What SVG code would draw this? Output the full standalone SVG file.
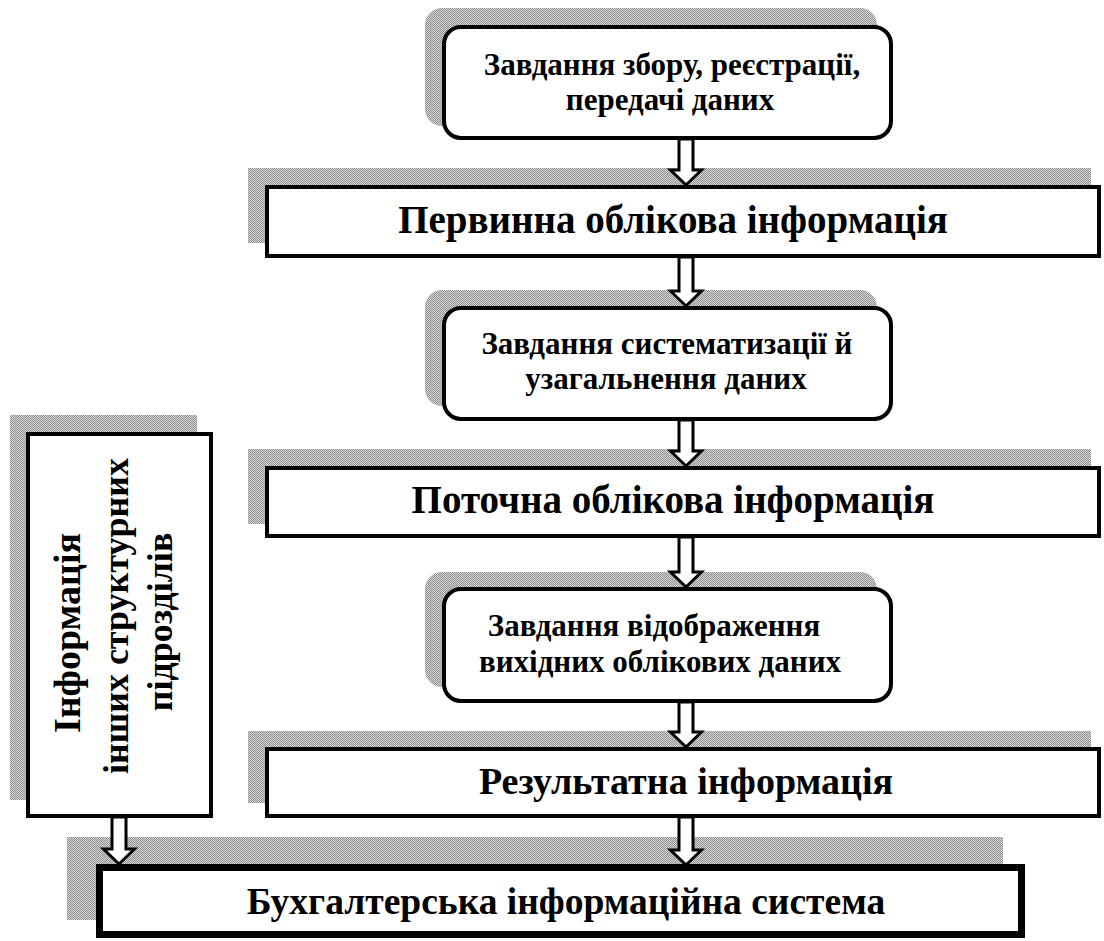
<svg xmlns="http://www.w3.org/2000/svg" width="1104" height="941" viewBox="0 0 1104 941">
  <defs>
    <!-- fine dithered grey used for the offset shadows -->
    <pattern id="dots" width="2" height="2" patternUnits="userSpaceOnUse">
      <rect width="2" height="2" fill="#d6d6d6"/>
      <rect width="1" height="1" fill="#8f8f8f"/>
      <rect x="1" y="1" width="1" height="1" fill="#8f8f8f"/>
    </pattern>
    <style>
      .shadow { fill: url(#dots); stroke: none; }
      .box { fill: #fff; stroke: #000; stroke-width: 4; }
      .box-heavy { fill: #fff; stroke: #000; stroke-width: 7; }
      .arrow { fill: #fff; stroke: #000; stroke-width: 3; stroke-linejoin: miter; }
      text { font-family: 'Liberation Serif', serif; font-weight: 700; text-anchor: middle; fill: #000; }
    </style>
  </defs>

  <rect width="1104" height="941" fill="#fff"/>

  <!-- left side box: information from other units -->
  <g id="node-other-units">
    <rect class="shadow" x="10" y="415" width="187" height="385"/>
    <rect class="box" x="28" y="434" width="183" height="382"/>
    <text font-family="Liberation Serif" font-weight="bold" text-anchor="middle" font-size="38" transform="translate(80,633) rotate(-90)">Інформація</text>
    <text font-family="Liberation Serif" font-weight="bold" text-anchor="middle" font-size="36" transform="translate(128,616) rotate(-90)">інших структурних</text>
    <text font-family="Liberation Serif" font-weight="bold" text-anchor="middle" font-size="36" transform="translate(172,622) rotate(-90)">підрозділів</text>
  </g>

  <!-- task 1: collection, registration, transfer -->
  <g id="node-task-collect">
    <rect class="shadow" x="425" y="8" width="452" height="118" rx="17"/>
    <rect class="box" x="444" y="27" width="447" height="111" rx="17"/>
    <text font-family="Liberation Serif" font-weight="bold" text-anchor="middle" font-size="31" x="672" y="75">Завдання збору, реєстрації,</text>
    <text font-family="Liberation Serif" font-weight="bold" text-anchor="middle" font-size="31" x="670" y="110">передачі даних</text>
  </g>

  <!-- primary accounting information -->
  <g id="node-primary">
    <rect class="shadow" x="248" y="168" width="843" height="75"/>
    <rect class="box" x="267" y="187" width="832" height="69"/>
    <text font-family="Liberation Serif" font-weight="bold" text-anchor="middle" font-size="39" x="673" y="233">Первинна облікова інформація</text>
  </g>

  <!-- task 2: systematisation and generalisation -->
  <g id="node-task-system">
    <rect class="shadow" x="425" y="290" width="452" height="116" rx="17"/>
    <rect class="box" x="444" y="308" width="447" height="111" rx="17"/>
    <text font-family="Liberation Serif" font-weight="bold" text-anchor="middle" font-size="31" x="667" y="354">Завдання систематизації й</text>
    <text font-family="Liberation Serif" font-weight="bold" text-anchor="middle" font-size="31" x="666" y="389">узагальнення даних</text>
  </g>

  <!-- current accounting information -->
  <g id="node-current">
    <rect class="shadow" x="248" y="449" width="843" height="75"/>
    <rect class="box" x="267" y="468" width="832" height="68"/>
    <text font-family="Liberation Serif" font-weight="bold" text-anchor="middle" font-size="39" x="673" y="513">Поточна облікова інформація</text>
  </g>

  <!-- task 3: presenting output data -->
  <g id="node-task-output">
    <rect class="shadow" x="425" y="572" width="452" height="115" rx="17"/>
    <rect class="box" x="444" y="589" width="447" height="112" rx="17"/>
    <text font-family="Liberation Serif" font-weight="bold" text-anchor="middle" font-size="31" x="654" y="636">Завдання відображення</text>
    <text font-family="Liberation Serif" font-weight="bold" text-anchor="middle" font-size="31" x="660" y="672">вихідних облікових даних</text>
  </g>

  <!-- resulting information -->
  <g id="node-result">
    <rect class="shadow" x="248" y="731" width="843" height="72"/>
    <rect class="box" x="267" y="749" width="832" height="67"/>
    <text font-family="Liberation Serif" font-weight="bold" text-anchor="middle" font-size="38" x="686" y="794">Результатна інформація</text>
  </g>

  <!-- accounting information system -->
  <g id="node-ais">
    <rect class="shadow" x="67" y="837" width="936" height="83"/>
    <rect class="box-heavy" x="99.5" y="867.5" width="922" height="67"/>
    <text font-family="Liberation Serif" font-weight="bold" text-anchor="middle" font-size="37.5" x="566" y="914">Бухгалтерська інформаційна система</text>
  </g>

  <!-- block arrows -->
  <g id="connectors">
    <path class="arrow" d="M679,139 V170 H670.5 L686,185 L701.5,170 H693 V139 Z"/>
    <path class="arrow" d="M679,257 V291 H670.5 L686,306 L701.5,291 H693 V257 Z"/>
    <path class="arrow" d="M679,420 V451 H670.5 L686,466 L701.5,451 H693 V420 Z"/>
    <path class="arrow" d="M679,537 V572 H670.5 L686,587 L701.5,572 H693 V537 Z"/>
    <path class="arrow" d="M679,702 V732 H670.5 L686,747 L701.5,732 H693 V702 Z"/>
    <path class="arrow" d="M679,817 V850 H670.5 L686,865 L701.5,850 H693 V817 Z"/>
    <path class="arrow" d="M112,817 V849 H103.5 L119,864 L134.5,849 H126 V817 Z"/>
  </g>
</svg>
